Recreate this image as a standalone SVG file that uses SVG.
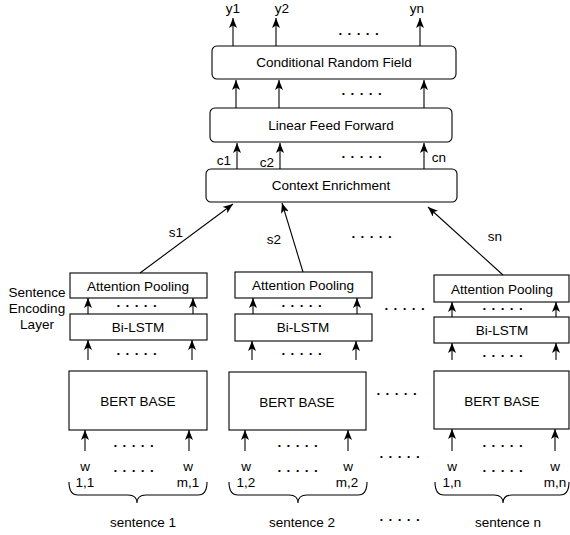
<svg xmlns="http://www.w3.org/2000/svg" width="570" height="535" viewBox="0 0 570 535">
<defs>
<marker id="ah" viewBox="0 0 10 8" refX="10" refY="4" markerWidth="10" markerHeight="8" markerUnits="userSpaceOnUse" orient="auto">
<path d="M0,0 L10,4 L0,8 L2.5,4 z" fill="#000"/>
</marker>
<style>
text{font-family:"Liberation Sans",Arial,sans-serif;font-size:13.5px;fill:#000;text-anchor:middle}
.box{fill:#fff;stroke:#000;stroke-width:1.1}
.ar{stroke:#000;stroke-width:1.1;fill:none;marker-end:url(#ah)}
.br{stroke:#000;stroke-width:1.1;fill:none}
.dots{font-weight:bold;letter-spacing:0.8px}
</style>
</defs>
<rect width="570" height="535" fill="#fff"/>

<g id="crf"><rect class="box" x="212" y="46" width="244" height="33" rx="5"/><text x="334" y="67">Conditional Random Field</text></g>
<g id="lff"><rect class="box" x="210" y="108" width="242" height="34" rx="5"/><text x="331" y="130">Linear Feed Forward</text></g>
<g id="ce"><rect class="box" x="206" y="169" width="251" height="33" rx="5"/><text x="331" y="190">Context Enrichment</text></g>

<g id="ap1"><rect class="box" x="70" y="273" width="137" height="25"/><text x="138" y="291">Attention Pooling</text></g>
<g id="lstm1"><rect class="box" x="70" y="314" width="137" height="26"/><text x="138" y="332">Bi-LSTM</text></g>
<g id="bert1"><rect class="box" x="69" y="371" width="138" height="59"/><text x="138" y="406">BERT BASE</text></g>

<g id="ap2"><rect class="box" x="235" y="272" width="137" height="26"/><text x="303" y="290">Attention Pooling</text></g>
<g id="lstm2"><rect class="box" x="235" y="314" width="137" height="27"/><text x="303" y="332">Bi-LSTM</text></g>
<g id="bert2"><rect class="box" x="229" y="372" width="137" height="58"/><text x="297" y="407">BERT BASE</text></g>

<g id="apn"><rect class="box" x="434" y="275" width="135" height="27"/><text x="502" y="294">Attention Pooling</text></g>
<g id="lstmn"><rect class="box" x="434" y="317" width="135" height="26"/><text x="502" y="335">Bi-LSTM</text></g>
<g id="bertn"><rect class="box" x="434" y="371" width="135" height="58"/><text x="502" y="406">BERT BASE</text></g>

<g id="connectors">
<line class="ar" x1="233" y1="46" x2="233" y2="18"/>
<line class="ar" x1="276" y1="46" x2="276" y2="18"/>
<line class="ar" x1="420" y1="46" x2="420" y2="18"/>
<line class="ar" x1="236" y1="108" x2="236" y2="80"/>
<line class="ar" x1="279" y1="108" x2="279" y2="80"/>
<line class="ar" x1="424" y1="108" x2="424" y2="80"/>
<line class="ar" x1="237" y1="169" x2="237" y2="143"/>
<line class="ar" x1="280" y1="169" x2="280" y2="143"/>
<line class="ar" x1="424" y1="169" x2="424" y2="143"/>
<line class="ar" x1="140" y1="273" x2="233" y2="204"/>
<line class="ar" x1="303" y1="272" x2="282" y2="203"/>
<line class="ar" x1="503" y1="275" x2="428" y2="207"/>

<line class="ar" x1="88" y1="314" x2="88" y2="298"/>
<line class="ar" x1="193" y1="314" x2="193" y2="298"/>
<line class="ar" x1="88" y1="360" x2="88" y2="340"/>
<line class="ar" x1="192" y1="360" x2="192" y2="340"/>
<line class="ar" x1="85" y1="451" x2="85" y2="430"/>
<line class="ar" x1="189" y1="451" x2="189" y2="430"/>

<line class="ar" x1="253" y1="314" x2="253" y2="298"/>
<line class="ar" x1="357" y1="314" x2="357" y2="298"/>
<line class="ar" x1="252" y1="360" x2="252" y2="341"/>
<line class="ar" x1="356" y1="360" x2="356" y2="341"/>
<line class="ar" x1="245" y1="451" x2="245" y2="430"/>
<line class="ar" x1="348" y1="451" x2="348" y2="430"/>

<line class="ar" x1="452" y1="317" x2="452" y2="302"/>
<line class="ar" x1="556" y1="317" x2="556" y2="302"/>
<line class="ar" x1="452" y1="360" x2="452" y2="343"/>
<line class="ar" x1="556" y1="360" x2="556" y2="343"/>
<line class="ar" x1="452" y1="451" x2="452" y2="429"/>
<line class="ar" x1="555" y1="451" x2="555" y2="429"/>

<path class="br" d="M69,482 Q69,495 78,495 L128,495 Q137,495 137,503 Q137,495 146,495 L198,495 Q207,495 207,482"/>
<path class="br" d="M229,482 Q229,495 238,495 L289,495 Q298,495 298,503 Q298,495 307,495 L358,495 Q367,495 367,482"/>
<path class="br" d="M435,482 Q435,495 444,495 L494,495 Q503,495 503,503 Q503,495 512,495 L560,495 Q569,495 569,482"/>
</g>

<g id="labels">
<text x="233" y="13">y1</text>
<text x="282" y="13">y2</text>
<text x="417" y="13">yn</text>
<text x="224" y="165">c1</text>
<text x="267" y="167">c2</text>
<text x="439" y="162">cn</text>
<text x="176" y="237">s1</text>
<text x="274" y="244">s2</text>
<text x="495" y="241">sn</text>
<text x="37" y="297">Sentence</text>
<text x="37" y="313">Encoding</text>
<text x="37" y="329">Layer</text>

<text x="85" y="471">w</text><text x="85" y="487">1,1</text>
<text x="188" y="471">w</text><text x="188" y="487">m,1</text>
<text x="246" y="471">w</text><text x="246" y="487">1,2</text>
<text x="348" y="471">w</text><text x="347" y="487">m,2</text>
<text x="452" y="471">w</text><text x="452" y="487">1,n</text>
<text x="555" y="471">w</text><text x="555" y="487">m,n</text>

<text x="143" y="527">sentence 1</text>
<text x="302" y="527">sentence 2</text>
<text x="508" y="527">sentence n</text>
</g>

<g id="dots">
<text class="dots" x="359" y="35">. . . . .</text>
<text class="dots" x="362" y="95">. . . . .</text>
<text class="dots" x="362" y="158">. . . . .</text>
<text class="dots" x="372" y="238">. . . . .</text>
<text class="dots" x="137" y="307">. . . . .</text>
<text class="dots" x="137" y="355">. . . . .</text>
<text class="dots" x="134" y="447">. . . . .</text>
<text class="dots" x="134" y="472">. . . . .</text>
<text class="dots" x="302" y="307">. . . . .</text>
<text class="dots" x="302" y="355">. . . . .</text>
<text class="dots" x="298" y="447">. . . . .</text>
<text class="dots" x="298" y="472">. . . . .</text>
<text class="dots" x="503" y="310">. . . . .</text>
<text class="dots" x="503" y="357">. . . . .</text>
<text class="dots" x="503" y="447">. . . . .</text>
<text class="dots" x="503" y="472">. . . . .</text>
<text class="dots" x="405" y="310">. . . . .</text>
<text class="dots" x="397" y="395">. . . . .</text>
<text class="dots" x="400" y="458">. . . . .</text>
<text class="dots" x="400" y="521">. . . . .</text>
</g>
</svg>
